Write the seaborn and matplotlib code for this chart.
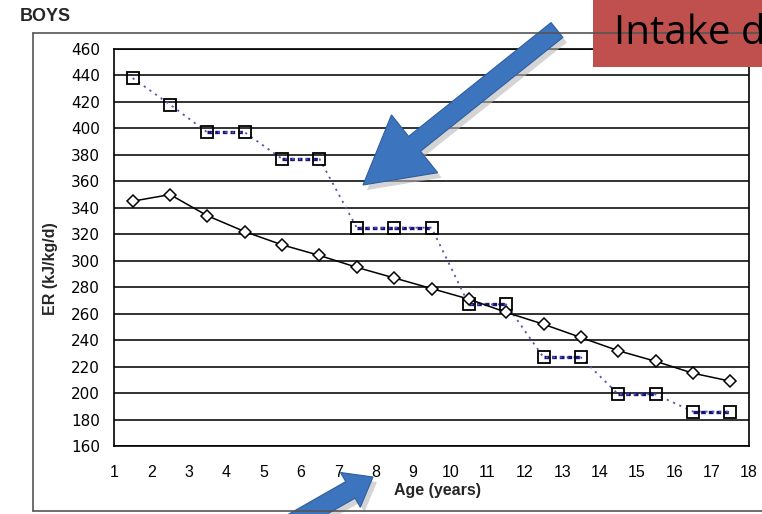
import numpy as np
import pandas as pd
import matplotlib
matplotlib.use("Agg")
import matplotlib.pyplot as plt
import seaborn as sns
from matplotlib.patches import FancyArrow, Rectangle

# values
age = [1.5, 2.5, 3.5, 4.5, 5.5, 6.5, 7.5, 8.5, 9.5, 10.5, 11.5, 12.5, 13.5, 14.5, 15.5, 16.5, 17.5]
er_new = [345, 350, 334, 322, 312, 304, 295, 287, 279, 271, 261, 252, 242, 232, 224, 215, 209]
er_old = [438, 418, 397, 397, 377, 377, 325, 325, 325, 267, 267, 227, 227, 199, 199, 186, 186]
x_ticks = list(range(1, 19))
y_ticks = list(range(160, 461, 20))

df = pd.DataFrame({"age": age, "new": er_new, "old": er_old})

sns.set_style("white")
plt.rcParams['font.family'] = ['Liberation Sans', 'DejaVu Sans']

fig = plt.figure(figsize=(7.62, 5.14), dpi=100)
ax = fig.add_axes([114 / 762, 1 - 446 / 514, (749 - 114) / 762, (446 - 49) / 514])

# old reference values: thin dotted line joining all points
sns.lineplot(data=df, x="age", y="old", ax=ax, sort=False, color="#5656b0",
             linestyle=(0, (1.2, 2.6)), linewidth=1.3, marker="s", markersize=8,
             markerfacecolor="none", markeredgecolor="black", markeredgewidth=1.3, zorder=4)
# thick dashes where the value stays flat
for i in range(len(age) - 1):
    if er_old[i] == er_old[i + 1]:
        ax.plot([age[i], age[i + 1]], [er_old[i], er_old[i + 1]], color="#14147a",
                linewidth=2.4, linestyle=(0, (1.4, 0.9)), zorder=3)

# new values: solid line with diamonds
sns.lineplot(data=df, x="age", y="new", ax=ax, sort=False, color="black", linewidth=1.1,
             marker="D", markersize=6.5, markerfacecolor="white", markeredgecolor="black",
             markeredgewidth=1.1, zorder=5)

ax.set_xlim(1, 18)
ax.set_ylim(160, 460)
ax.set_xticks(x_ticks)
ax.set_yticks(y_ticks)
ax.set_yticklabels([str(v) for v in y_ticks], fontfamily="DejaVu Sans", fontsize=11)
ax.set_xticklabels([str(v) for v in x_ticks], fontsize=11.5)
ax.yaxis.grid(True, color="#222222", linewidth=1.3)
ax.xaxis.grid(False)
ax.set_axisbelow(True)
for s in ax.spines.values():
    s.set_visible(True)
    s.set_color("black")
    s.set_linewidth(1.2)
ax.tick_params(axis="y", direction="out", length=5, width=1.2, pad=5, color="black", labelcolor="black")
ax.tick_params(axis="x", direction="out", length=5, width=1.2, pad=8.5, color="black", labelcolor="black")
ax.set_xlabel("")
ax.set_ylabel("")

fig.text(438 / 762, 1 - 491 / 514, "Age (years)", ha="center", va="center",
         fontsize=11.5, fontweight="bold")
fig.text(50 / 762, 1 - 269 / 514, "ER (kJ/kg/d)", ha="center", va="center",
         rotation=90, fontsize=11.5, fontweight="bold")
fig.text(20 / 762, 1 - 21 / 514, "BOYS", ha="left", va="baseline",
         fontsize=13, fontweight="bold")

# overlay in pixel coordinates for frame, callout box and arrows
ov = fig.add_axes([0, 0, 1, 1], zorder=10)
ov.set_xlim(0, 762)
ov.set_ylim(514, 0)
ov.axis("off")
ov.patch.set_alpha(0)

ov.plot([33, 33], [33, 511], color="#555555", lw=1.2)
ov.plot([33, 762], [33, 33], color="#555555", lw=1.2)
ov.plot([33, 762], [511, 511], color="#555555", lw=1.2)

ov.add_patch(Rectangle((593, 0), 180, 67, facecolor="#c0504d", edgecolor="none"))
ov.text(614, 44, "Intake d", fontsize=29, family=["Open Sans", "DejaVu Sans"], color="black",
        ha="left", va="baseline", clip_on=True)

for (x0, y0, x1, y1, w, hw, hl) in [(557, 30, 363, 185, 19, 74, 66),
                                     (280, 530, 373, 477, 19, 40, 26)]:
    ov.add_patch(FancyArrow(x0 + 4, y0 + 5, x1 - x0, y1 - y0, width=w, head_width=hw,
                            head_length=hl, length_includes_head=True,
                            facecolor="#b8b8b8", edgecolor="none", alpha=0.6))
    ov.add_patch(FancyArrow(x0, y0, x1 - x0, y1 - y0, width=w, head_width=hw,
                            head_length=hl, length_includes_head=True,
                            facecolor="#3c74bd", edgecolor="#2f5e9e", linewidth=0.8))

plt.savefig("out.png", dpi=100)
